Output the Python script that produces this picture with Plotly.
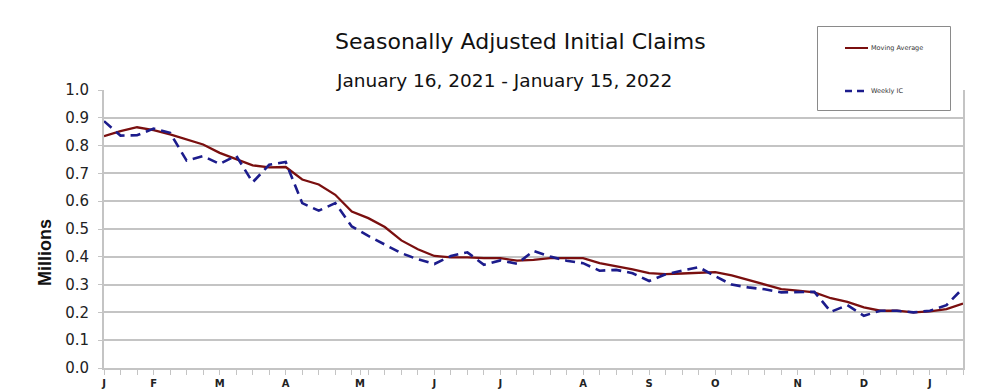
import plotly.graph_objects as go

# ---- data (millions), weekly, Jan 16 2021 .. Jan 15 2022 ----
week_index = list(range(53))
weekly_ic = [0.888, 0.836, 0.837, 0.861, 0.846, 0.746, 0.762, 0.734, 0.764, 0.668,
             0.731, 0.741, 0.593, 0.566, 0.593, 0.509, 0.475, 0.445, 0.413, 0.391,
             0.374, 0.403, 0.416, 0.371, 0.387, 0.375, 0.421, 0.401, 0.386, 0.377,
             0.350, 0.353, 0.341, 0.313, 0.337, 0.350, 0.363, 0.330, 0.300, 0.290,
             0.283, 0.272, 0.272, 0.274, 0.202, 0.226, 0.188, 0.206, 0.206, 0.200,
             0.206, 0.226, 0.287]
moving_avg = [0.834, 0.852, 0.866, 0.856, 0.840, 0.822, 0.804, 0.774, 0.752, 0.729,
              0.722, 0.723, 0.678, 0.660, 0.623, 0.563, 0.539, 0.507, 0.459, 0.427,
              0.403, 0.398, 0.398, 0.395, 0.395, 0.386, 0.389, 0.395, 0.395, 0.395,
              0.377, 0.367, 0.355, 0.341, 0.338, 0.340, 0.342, 0.345, 0.333, 0.317,
              0.299, 0.284, 0.278, 0.272, 0.251, 0.238, 0.218, 0.206, 0.206, 0.200,
              0.204, 0.212, 0.232]
month_pos = [0, 3, 7, 11, 15.5, 20, 24, 29, 33, 37, 42, 46, 50]
month_labels = ["J", "F", "M", "A", "M", "J", "J", "A", "S", "O", "N", "D", "J"]

# page is offset by the default 8px body margin
OFF = 8
W, H = 981 - OFF, 392 - OFF
PL, PR, PT, PB = 104, 963, 90, 368  # plot area in page pixels
L, T = PL - OFF, PT - OFF
R = (W + OFF) - PR
B = (H + OFF) - PB
PW, PH = PR - PL, PB - PT


def px(xp):
    return (xp - PL) / PW


def py(yp):
    return (PB - yp) / PH


MA_COLOR = "#7a0f0f"
IC_COLOR = "#1c1c8c"
GRID = "#c4c4c4"

fig = go.Figure()
fig.add_trace(go.Scatter(x=week_index, y=moving_avg, mode="lines", name="Moving Average",
                         line=dict(color=MA_COLOR, width=2.3)))
fig.add_trace(go.Scatter(x=week_index, y=weekly_ic, mode="lines", name="Weekly IC",
                         line=dict(color=IC_COLOR, width=2.6, dash="10px,6px")))

fig.update_layout(
    width=W, height=H,
    margin=dict(l=L, r=R, t=T, b=B, autoexpand=False),
    paper_bgcolor="white", plot_bgcolor="white",
    showlegend=False,
    font=dict(family="DejaVu Sans", color="#222"),
)
fig.update_xaxes(
    range=[0, 52], tickmode="array", tickvals=month_pos, ticktext=month_labels,
    tickfont=dict(family="DejaVu Sans", size=10, color="#222", weight="bold"),
    showgrid=False, zeroline=False, showline=True, linecolor=GRID, linewidth=2,
    ticks="outside", ticklen=5, tickcolor=GRID, tickwidth=1,
    minor=dict(tickmode="linear", tick0=0, dtick=1, ticks="outside", ticklen=5,
               tickcolor=GRID, tickwidth=1, showgrid=False),
)
fig.update_yaxes(
    range=[0, 1.0], dtick=0.1, tickformat=".1f",
    tickfont=dict(family="DejaVu Sans", size=15, color="#222"),
    showgrid=True, gridcolor=GRID, gridwidth=1.5, zeroline=False,
    showline=True, linecolor=GRID, linewidth=2, mirror=True,
    ticks="outside", ticklen=4, tickcolor=GRID, ticklabelstandoff=6,
)

annotations = [
    dict(text="Seasonally Adjusted Initial Claims", x=px(520), y=py(42),
         font=dict(family="DejaVu Sans", size=22, color="#111")),
    dict(text="January 16, 2021 - January 15, 2022", x=px(504), y=py(80),
         font=dict(family="DejaVu Sans", size=18.5, color="#111")),
    dict(text="Millions", x=px(45), y=py(252), textangle=-90,
         font=dict(family="Liberation Sans", size=18, color="#111", weight="bold")),
    dict(text="Moving Average", x=px(869), y=py(48), xanchor="left",
         font=dict(family="DejaVu Sans", size=6.5, color="#333")),
    dict(text="Weekly IC", x=px(869), y=py(91), xanchor="left",
         font=dict(family="DejaVu Sans", size=6.5, color="#333")),
]
for a in annotations:
    a.update(xref="paper", yref="paper", showarrow=False)
    a.setdefault("xanchor", "center")
    a.setdefault("yanchor", "middle")
fig.update_layout(annotations=annotations)

shapes = [
    # legend box
    dict(type="rect", x0=px(817.5), x1=px(950.5), y0=py(110.5), y1=py(26.5),
         line=dict(color="#8a8a8a", width=1), fillcolor="white", layer="above"),
    dict(type="line", x0=px(845), x1=px(868), y0=py(48), y1=py(48),
         line=dict(color=MA_COLOR, width=2), layer="above"),
    dict(type="line", x0=px(845), x1=px(868), y0=py(91), y1=py(91),
         line=dict(color=IC_COLOR, width=2.5, dash="7px,5px"), layer="above"),
    # outer right border of the image
    dict(type="line", x0=px(974), x1=px(974), y0=py(391), y1=py(9),
         line=dict(color="#111", width=2), layer="above"),
]
for s in shapes:
    s.update(xref="paper", yref="paper")
fig.update_layout(shapes=shapes)

fig.write_html("out.html")
